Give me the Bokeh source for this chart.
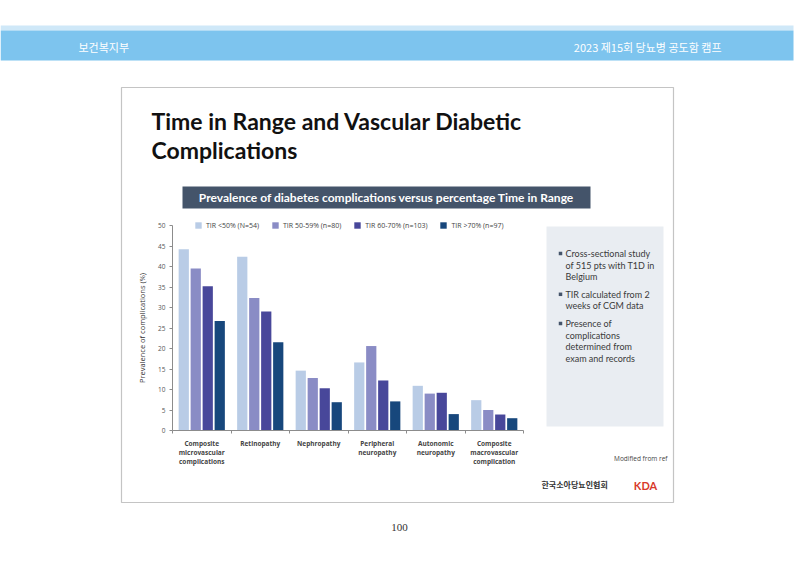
from bokeh.plotting import figure
from bokeh.models import (Legend, LegendItem, FixedTicker, LinearAxis,
                          ColumnDataSource, Range1d)
from bokeh.core.properties import value
from bokeh.embed import file_html
from bokeh.resources import INLINE

# ---------------- data ----------------
categories = ["Composite\nmicrovascular\ncomplications", "Retinopathy", "Nephropathy",
              "Peripheral\nneuropathy", "Autonomic\nneuropathy",
              "Composite\nmacrovascular\ncomplication"]
series = ["TIR <50% (N=54)", "TIR 50-59% (n=80)", "TIR 60-70% (n=103)", "TIR >70% (n=97)"]
tir_lt50 = [44.2, 42.4, 14.6, 16.6, 10.9, 7.4]
tir_50_59 = [39.5, 32.3, 12.8, 20.6, 9.0, 5.0]
tir_60_70 = [35.2, 29.0, 10.3, 12.2, 9.2, 3.9]
tir_gt70 = [26.7, 21.5, 6.9, 7.1, 4.0, 3.0]
y_ticks = [0, 5, 10, 15, 20, 25, 30, 35, 40, 45, 50]
bullets = ["Cross-sectional study\nof 515 pts with T1D in\nBelgium",
           "TIR calculated from 2\nweeks of CGM data",
           "Presence of\ncomplications\ndetermined from\nexam and records"]
title_text = "Time in Range and Vascular Diabetic\nComplications"
subtitle_text = "Prevalence of diabetes complications versus percentage Time in Range"
y_label = "Prevalence of complications (%)"
header_left = "보건복지부"
header_right = "2023 제15회 당뇨병 공도함 캠프"

# ---------------- styles / layout ----------------
colors = ["#B9CCE6", "#8A8CC5", "#48479A", "#17477C"]
FONT = "Open Sans"
W, H = 800, 566
L, R, T, B = 172, 523, 225, 430     # chart plotting area in page pixels
XMIN, XMAX = -0.5, len(categories) - 0.5
YMIN, YMAX = 0, 50

# page coordinates: x to the right, y downward
p = figure(width=W, height=H, output_backend="svg", toolbar_location=None,
           x_range=Range1d(0, W), y_range=Range1d(H, 0),
           x_axis_type=None, y_axis_type=None,
           min_border=0, min_border_left=0, min_border_right=0,
           min_border_top=0, min_border_bottom=0)
p.outline_line_color = None
p.grid.visible = False
p.background_fill_color = "white"
p.border_fill_color = "white"

# extra ranges so that chart values map onto the chart area
xs_px = (R - L) / (XMAX - XMIN)
ys_px = (B - T) / (YMAX - YMIN)
x0 = XMIN - L / xs_px
y0 = YMIN - (H - B) / ys_px
p.extra_x_ranges = {"cat": Range1d(x0, x0 + W / xs_px)}
p.extra_y_ranges = {"val": Range1d(y0, y0 + H / ys_px)}


def txt(x, y, s, **kw):
    d = dict(text_font=value(FONT), text_font_size="9px", text_color="#333333",
             text_baseline="middle", text_align="left")
    d.update(kw)
    p.text(x=[x], y=[y], text=[s], **d)


# header band
p.quad(left=[0], right=[793], top=[25], bottom=[30], fill_color="#CFE8F8", line_color=None)
p.quad(left=[0], right=[793], top=[30], bottom=[60], fill_color="#7DC4EE", line_color=None)
txt(78, 46, header_left, text_color="white", text_font=value("Noto Sans CJK KR"),
    text_font_size="11px")
txt(721, 46, header_right, text_color="white", text_font=value("Noto Sans CJK KR"),
    text_font_size="11px", text_align="right")

# slide frame
p.quad(left=[121], right=[673], top=[87], bottom=[502], fill_color="white",
       line_color="#C4C4C4", line_width=1.2)

# title
txt(151, 135, title_text, text_font=value("Lato"), text_font_style="bold",
    text_font_size="23px", text_color="#111111", text_baseline="middle",
    text_line_height=1.05)

# subtitle banner
p.quad(left=[182], right=[590], top=[186], bottom=[208], fill_color="#44546A", line_color=None)
txt(386, 197, subtitle_text, text_font=value("Lato"), text_font_style="bold",
    text_font_size="12px", text_color="white", text_align="center")

# right info panel
p.quad(left=[546], right=[663], top=[226], bottom=[426], fill_color="#E9EDF2", line_color=None)
LH = 11.6
by = 253
for b in bullets:
    p.scatter(x=[560], y=[by], marker="square", size=3.5, fill_color="#44546A",
              line_color=None)
    txt(565, by - LH / 2, b, text_font=value("Lato"), text_font_size="9px",
        text_color="#3A3A3A", text_baseline="top", text_line_height=1.08)
    by += LH * (b.count("\n") + 1) + 6

txt(667, 458, "Modified from ref", text_font_size="6.5px", text_color="#444444",
    text_align="right")
txt(541, 484, "한국소아당뇨인협회", text_font=value("Noto Sans CJK KR"),
    text_font_size="8px", text_color="#333333", text_font_style="bold")
txt(645, 485, "KDA", text_font=value("Lato"), text_font_style="bold",
    text_font_size="11px", text_color="#D8392B", text_align="center")

# page number
txt(399, 527, "100", text_font=value("Liberation Serif"), text_font_size="11px",
    text_color="#333333", text_align="center")

# ---------------- bars ----------------
values = [tir_lt50, tir_50_59, tir_60_70, tir_gt70]
offsets = [-0.3075, -0.1025, 0.1025, 0.3075]
items = []
for name, vals, off, col in zip(series, values, offsets, colors):
    src = ColumnDataSource(dict(x=[i + off for i in range(len(categories))], top=vals))
    r = p.vbar(x="x", top="top", bottom=0, width=0.175, source=src, fill_color=col,
               line_color=None, x_range_name="cat", y_range_name="val")
    items.append(LegendItem(label=name, renderers=[r]))

legend = Legend(items=items, orientation="horizontal", location=(194, H - T - 5),
                label_text_font=FONT, label_text_font_size="7px",
                label_text_color="#444444", glyph_width=8, glyph_height=8,
                label_standoff=4, spacing=12, padding=0, margin=0,
                background_fill_alpha=0, border_line_color=None,
                label_height=10)
p.add_layout(legend, "center")

# ---------------- axes ----------------
yax = LinearAxis(x_range_name="cat", y_range_name="val", fixed_location=XMIN,
                 bounds=(YMIN, YMAX), ticker=FixedTicker(ticks=y_ticks))
yax.axis_line_color = "#8C8C8C"
yax.major_tick_line_color = "#8C8C8C"
yax.major_tick_out = 3
yax.major_tick_in = 0
yax.minor_tick_line_color = None
yax.major_label_text_font = FONT
yax.major_label_text_font_size = "6.5px"
yax.major_label_text_color = "#555555"
yax.major_label_standoff = 4
yax.axis_label = y_label
yax.axis_label_text_font = FONT
yax.axis_label_text_font_size = "7.5px"
yax.axis_label_text_font_style = "normal"
yax.axis_label_text_color = "#333333"
yax.axis_label_standoff = 8
p.add_layout(yax, "left")

xax = LinearAxis(x_range_name="cat", y_range_name="val", fixed_location=YMIN,
                 bounds=(XMIN, XMAX),
                 ticker=FixedTicker(ticks=list(range(len(categories))),
                                    minor_ticks=[i - 0.5 for i in range(len(categories) + 1)]))
xax.major_label_overrides = {i: c for i, c in enumerate(categories)}
xax.axis_line_color = "#8C8C8C"
xax.major_tick_line_color = None
xax.minor_tick_line_color = "#8C8C8C"
xax.minor_tick_out = 3
xax.minor_tick_in = 0
xax.major_label_text_font = FONT
xax.major_label_text_font_size = "6.5px"
xax.major_label_text_font_style = "bold"
xax.major_label_text_color = "#444444"
xax.major_label_text_line_height = 1.0
xax.major_label_standoff = 2
p.add_layout(xax, "below")

open("out.html", "w").write(file_html(p, INLINE))
